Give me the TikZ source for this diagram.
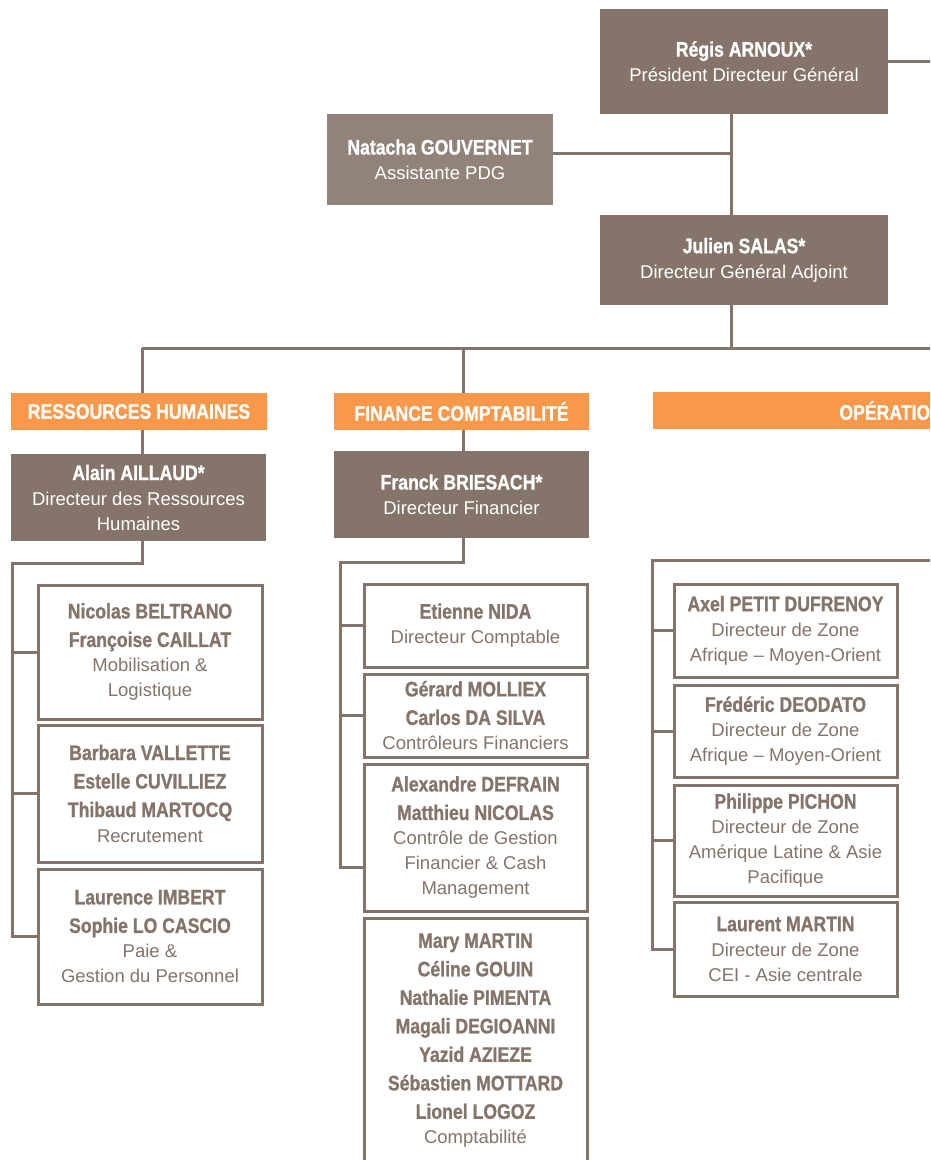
\documentclass[tikz,border=0pt]{standalone}
\usepackage{fontspec}
\setmainfont{Liberation Sans}
\newfontfamily\namefont{Liberation Sans}[FakeStretch=0.84,FakeBold=1]
\definecolor{taupe}{HTML}{857469}
\definecolor{taupelight}{HTML}{918379}
\definecolor{orangehdr}{HTML}{F7984A}
\newcommand{\nm}[1]{{\namefont\bfseries\fontsize{21}{25}\selectfont #1}}
\tikzset{
  link/.style={draw=taupe,line width=3pt},
  darkbox/.style={fill=taupe,text=white,inner sep=0pt,align=center,font=\fontsize{18.5}{25}\selectfont},
  lightbox/.style={darkbox,fill=taupelight},
  staffbox/.style={draw=taupe,line width=3pt,fill=white,text=taupe,inner sep=0pt,align=center,
    font=\fontsize{18.5}{25}\selectfont,minimum width=223pt},
  header/.style={fill=orangehdr,text=white,inner sep=0pt,minimum height=37pt,
    font=\namefont\bfseries\fontsize{21}{25}\selectfont}
}
\begin{document}
\begin{tikzpicture}[x=1pt,y=-1pt]
\useasboundingbox (0,0) rectangle (930,1160);
\clip (0,0) rectangle (930,1160);
%direction
\node[darkbox,minimum width=288pt,minimum height=105pt](regis)at(744,61.5){\nm{Régis ARNOUX*}\\Président Directeur Général};
\node[lightbox,minimum width=226pt,minimum height=91pt](natacha)at(440,159.5){\nm{Natacha GOUVERNET}\\Assistante PDG};
\node[darkbox,minimum width=288pt,minimum height=90pt](julien)at(744,260){\nm{Julien SALAS*}\\Directeur Général Adjoint};
%headers
\node[header,minimum width=256pt](hdrrh)at(139,411.5){RESSOURCES HUMAINES};
\node[header,minimum width=255pt](hdrfin)at(461.5,411.5){FINANCE COMPTABILITÉ};
\node[header,anchor=west,text width=277pt,align=right](hdrops)at(653,410.5){OPÉRATIO};
%directors
\node[darkbox,minimum width=255pt,minimum height=87pt](alain)at(138.5,497.5){\nm{Alain AILLAUD*}\\Directeur des Ressources\\Humaines};
\node[darkbox,minimum width=255pt,minimum height=87pt](franck)at(461.5,494.5){\nm{Franck BRIESACH*}\\Directeur Financier};
%ressources humaines
\node[staffbox,minimum width=224pt,minimum height=134pt](rh1)at(150,652){\nm{Nicolas BELTRANO}\\[3.5pt]\nm{Françoise CAILLAT}\\Mobilisation \&\\Logistique};
\node[staffbox,minimum width=224pt,minimum height=137pt](rh2)at(150,793.5){\nm{Barbara VALLETTE}\\[3.5pt]\nm{Estelle CUVILLIEZ}\\[3.5pt]\nm{Thibaud MARTOCQ}\\Recrutement};
\node[staffbox,minimum width=224pt,minimum height=135pt](rh3)at(150,936.5){\nm{Laurence IMBERT}\\[3.5pt]\nm{Sophie LO CASCIO}\\Paie \&\\Gestion du Personnel};
%finance
\node[staffbox,minimum height=83pt](fin1)at(475.5,625.5){\nm{Etienne NIDA}\\Directeur Comptable};
\node[staffbox,minimum height=83pt](fin2)at(475.5,715.5){\nm{Gérard MOLLIEX}\\[3.5pt]\nm{Carlos DA SILVA}\\Contrôleurs Financiers};
\node[staffbox,minimum height=147pt](fin3)at(475.5,837.5){\nm{Alexandre DEFRAIN}\\[3.5pt]\nm{Matthieu NICOLAS}\\Contrôle de Gestion\\Financier \& Cash\\Management};
\node[staffbox,minimum height=245pt](fin4)at(475.5,1040.5){\nm{Mary MARTIN}\\[3.5pt]\nm{Céline GOUIN}\\[3.5pt]\nm{Nathalie PIMENTA}\\[3.5pt]\nm{Magali DEGIOANNI}\\[3.5pt]\nm{Yazid AZIEZE}\\[3.5pt]\nm{Sébastien MOTTARD}\\[3.5pt]\nm{Lionel LOGOZ}\\Comptabilité};
%operations
\node[staffbox,minimum height=93pt](ops1)at(785.5,630.5){\nm{Axel PETIT DUFRENOY}\\Directeur de Zone\\Afrique – Moyen-Orient};
\node[staffbox,minimum height=92pt](ops2)at(785.5,731){\nm{Frédéric DEODATO}\\Directeur de Zone\\Afrique – Moyen-Orient};
\node[staffbox,minimum height=111pt](ops3)at(785.5,840.5){\nm{Philippe PICHON}\\Directeur de Zone\\Amérique Latine \& Asie\\Pacifique};
\node[staffbox,minimum height=94pt](ops4)at(785.5,949){\nm{Laurent MARTIN}\\Directeur de Zone\\CEI - Asie centrale};
%links
\coordinate(regisout)at(931,61.5);
\coordinate(trunk)at(731,348);
\coordinate(busrh)at(142,348);
\coordinate(busfin)at(463,348);
\coordinate(busend)at(931,348);
\coordinate(rhspine)at(12,563);
\coordinate(finspine)at(340,562);
\coordinate(fin3in)at([yshift=-29.5pt]fin3.west);
\coordinate(opsspine)at(652,560);
\coordinate(opsout)at(931,560);
\draw[link](regis.east)--(regisout);
\draw[link](regis.south -| trunk)--(julien.north -| trunk);
\draw[link]([yshift=6pt]natacha.east)--([yshift=6pt]natacha.east -| trunk);
\draw[link](julien.south -| trunk)--(trunk);
\draw[link](busrh)--(busend);
\draw[link](busrh)--(busrh |- hdrrh.north);
\draw[link](busrh |- hdrrh.south)--(busrh |- alain.north);
\draw[link](busfin)--(busfin |- hdrfin.north);
\draw[link](busfin |- hdrfin.south)--(busfin |- franck.north);
\draw[link](busrh |- alain.south)|-(rhspine)--(rhspine |- rh3.west)--(rh3.west);
\foreach \b in {rh1,rh2}
  \draw[link](rhspine |- \b.west)--(\b.west);
\draw[link](busfin |- franck.south)|-(finspine)--(finspine |- fin3in)--(fin3in);
\foreach \b in {fin1,fin2}
  \draw[link](finspine |- \b.west)--(\b.west);
\draw[link](opsout)--(opsspine)--(opsspine |- ops4.west)--(ops4.west);
\foreach \b in {ops1,ops2,ops3}
  \draw[link](opsspine |- \b.west)--(\b.west);
\end{tikzpicture}
\end{document}
